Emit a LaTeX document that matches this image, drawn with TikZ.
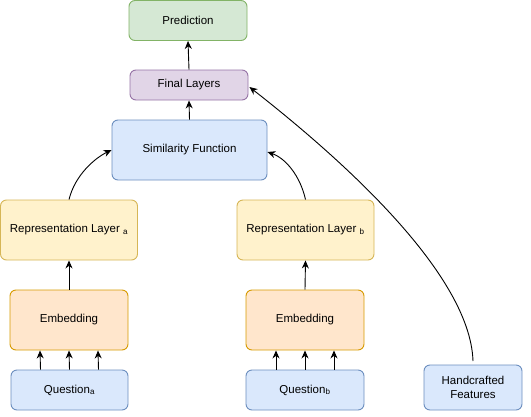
\documentclass[tikz,border=0pt]{standalone}
\usepackage{fontspec}
\setmainfont{Liberation Sans}
\usetikzlibrary{arrows.meta}
\definecolor{gfill}{HTML}{D5E8D4}\definecolor{gline}{HTML}{82B366}
\definecolor{pfill}{HTML}{E1D5E7}\definecolor{pline}{HTML}{9673A6}
\definecolor{bfill}{HTML}{DAE8FC}\definecolor{bline}{HTML}{6C8EBF}
\definecolor{yfill}{HTML}{FFF2CC}\definecolor{yline}{HTML}{D6B656}
\definecolor{ofill}{HTML}{FFE6CC}\definecolor{oline}{HTML}{D79B00}
\begin{document}
\begin{tikzpicture}[x=1pt,y=-1pt,
  box/.style={draw, line width=0.9pt, rounded corners=6pt, inner sep=0pt, align=center,
    font=\fontsize{11.5}{13.5}\selectfont},
  green/.style={box, fill=gfill, draw=gline},
  purple/.style={box, fill=pfill, draw=pline},
  blue/.style={box, fill=bfill, draw=bline},
  yellow/.style={box, fill=yfill, draw=yline},
  orange/.style={box, fill=ofill, draw=oline},
  arr/.style={draw, line width=0.9pt, -{Stealth[length=8pt,width=7pt]}}]
\useasboundingbox (0,0) rectangle (531,416);
\node[green, minimum width=118pt, minimum height=40pt] (pred) at (188,20.5) {Prediction};
\node[purple, minimum width=118pt, minimum height=30pt] (fl) at (189,85) {Final Layers};
\node[blue, minimum width=155pt, minimum height=60pt] (sf) at (189.5,150) {Similarity Function};
\node[yellow, minimum width=137pt, minimum height=60pt] (ra) at (69,230) {Representation Layer \textsubscript{a}};
\node[yellow, minimum width=137pt, minimum height=60pt] (rb) at (305.5,230) {Representation Layer \textsubscript{b}};
\node[orange, minimum width=118pt, minimum height=60pt] (ea) at (69,320) {Embedding};
\node[orange, minimum width=118pt, minimum height=60pt] (eb) at (305,320) {Embedding};
\node[blue, minimum width=117pt, minimum height=40pt] (qa) at (69.5,390) {Question\textsubscript{a}};
\node[blue, minimum width=118pt, minimum height=40pt] (qb) at (305,390) {Question\textsubscript{b}};
\node[blue, minimum width=98pt, minimum height=45pt] (hf) at (473,387.5) {Handcrafted\\Features};
\coordinate (hfs) at (473,361);
\draw[arr] (fl.north) -- (pred.south);
\draw[arr] (sf.north) -- (fl.south);
\draw[arr] (ea.north) -- (ra.south);
\draw[arr] (eb.north) -- (rb.south);
\foreach \d in {-29,0,29} {
  \draw[arr] ([xshift=\d pt]qa.north) -- ([xshift=\d pt]ea.south);
  \draw[arr] ([xshift=\d pt]qb.north) -- ([xshift=\d pt]eb.south);
}
\draw[arr] (ra.north) .. controls (75,175) and (95,158) .. (sf.west);
\draw[arr] (rb.north) .. controls (300,175) and (285,158) .. ([yshift=-2pt]sf.east);
\draw[arr] (hfs) .. controls (470,270) and (330,150) .. ([xshift=1pt,yshift=-2pt]fl.east);
\end{tikzpicture}
\end{document}
